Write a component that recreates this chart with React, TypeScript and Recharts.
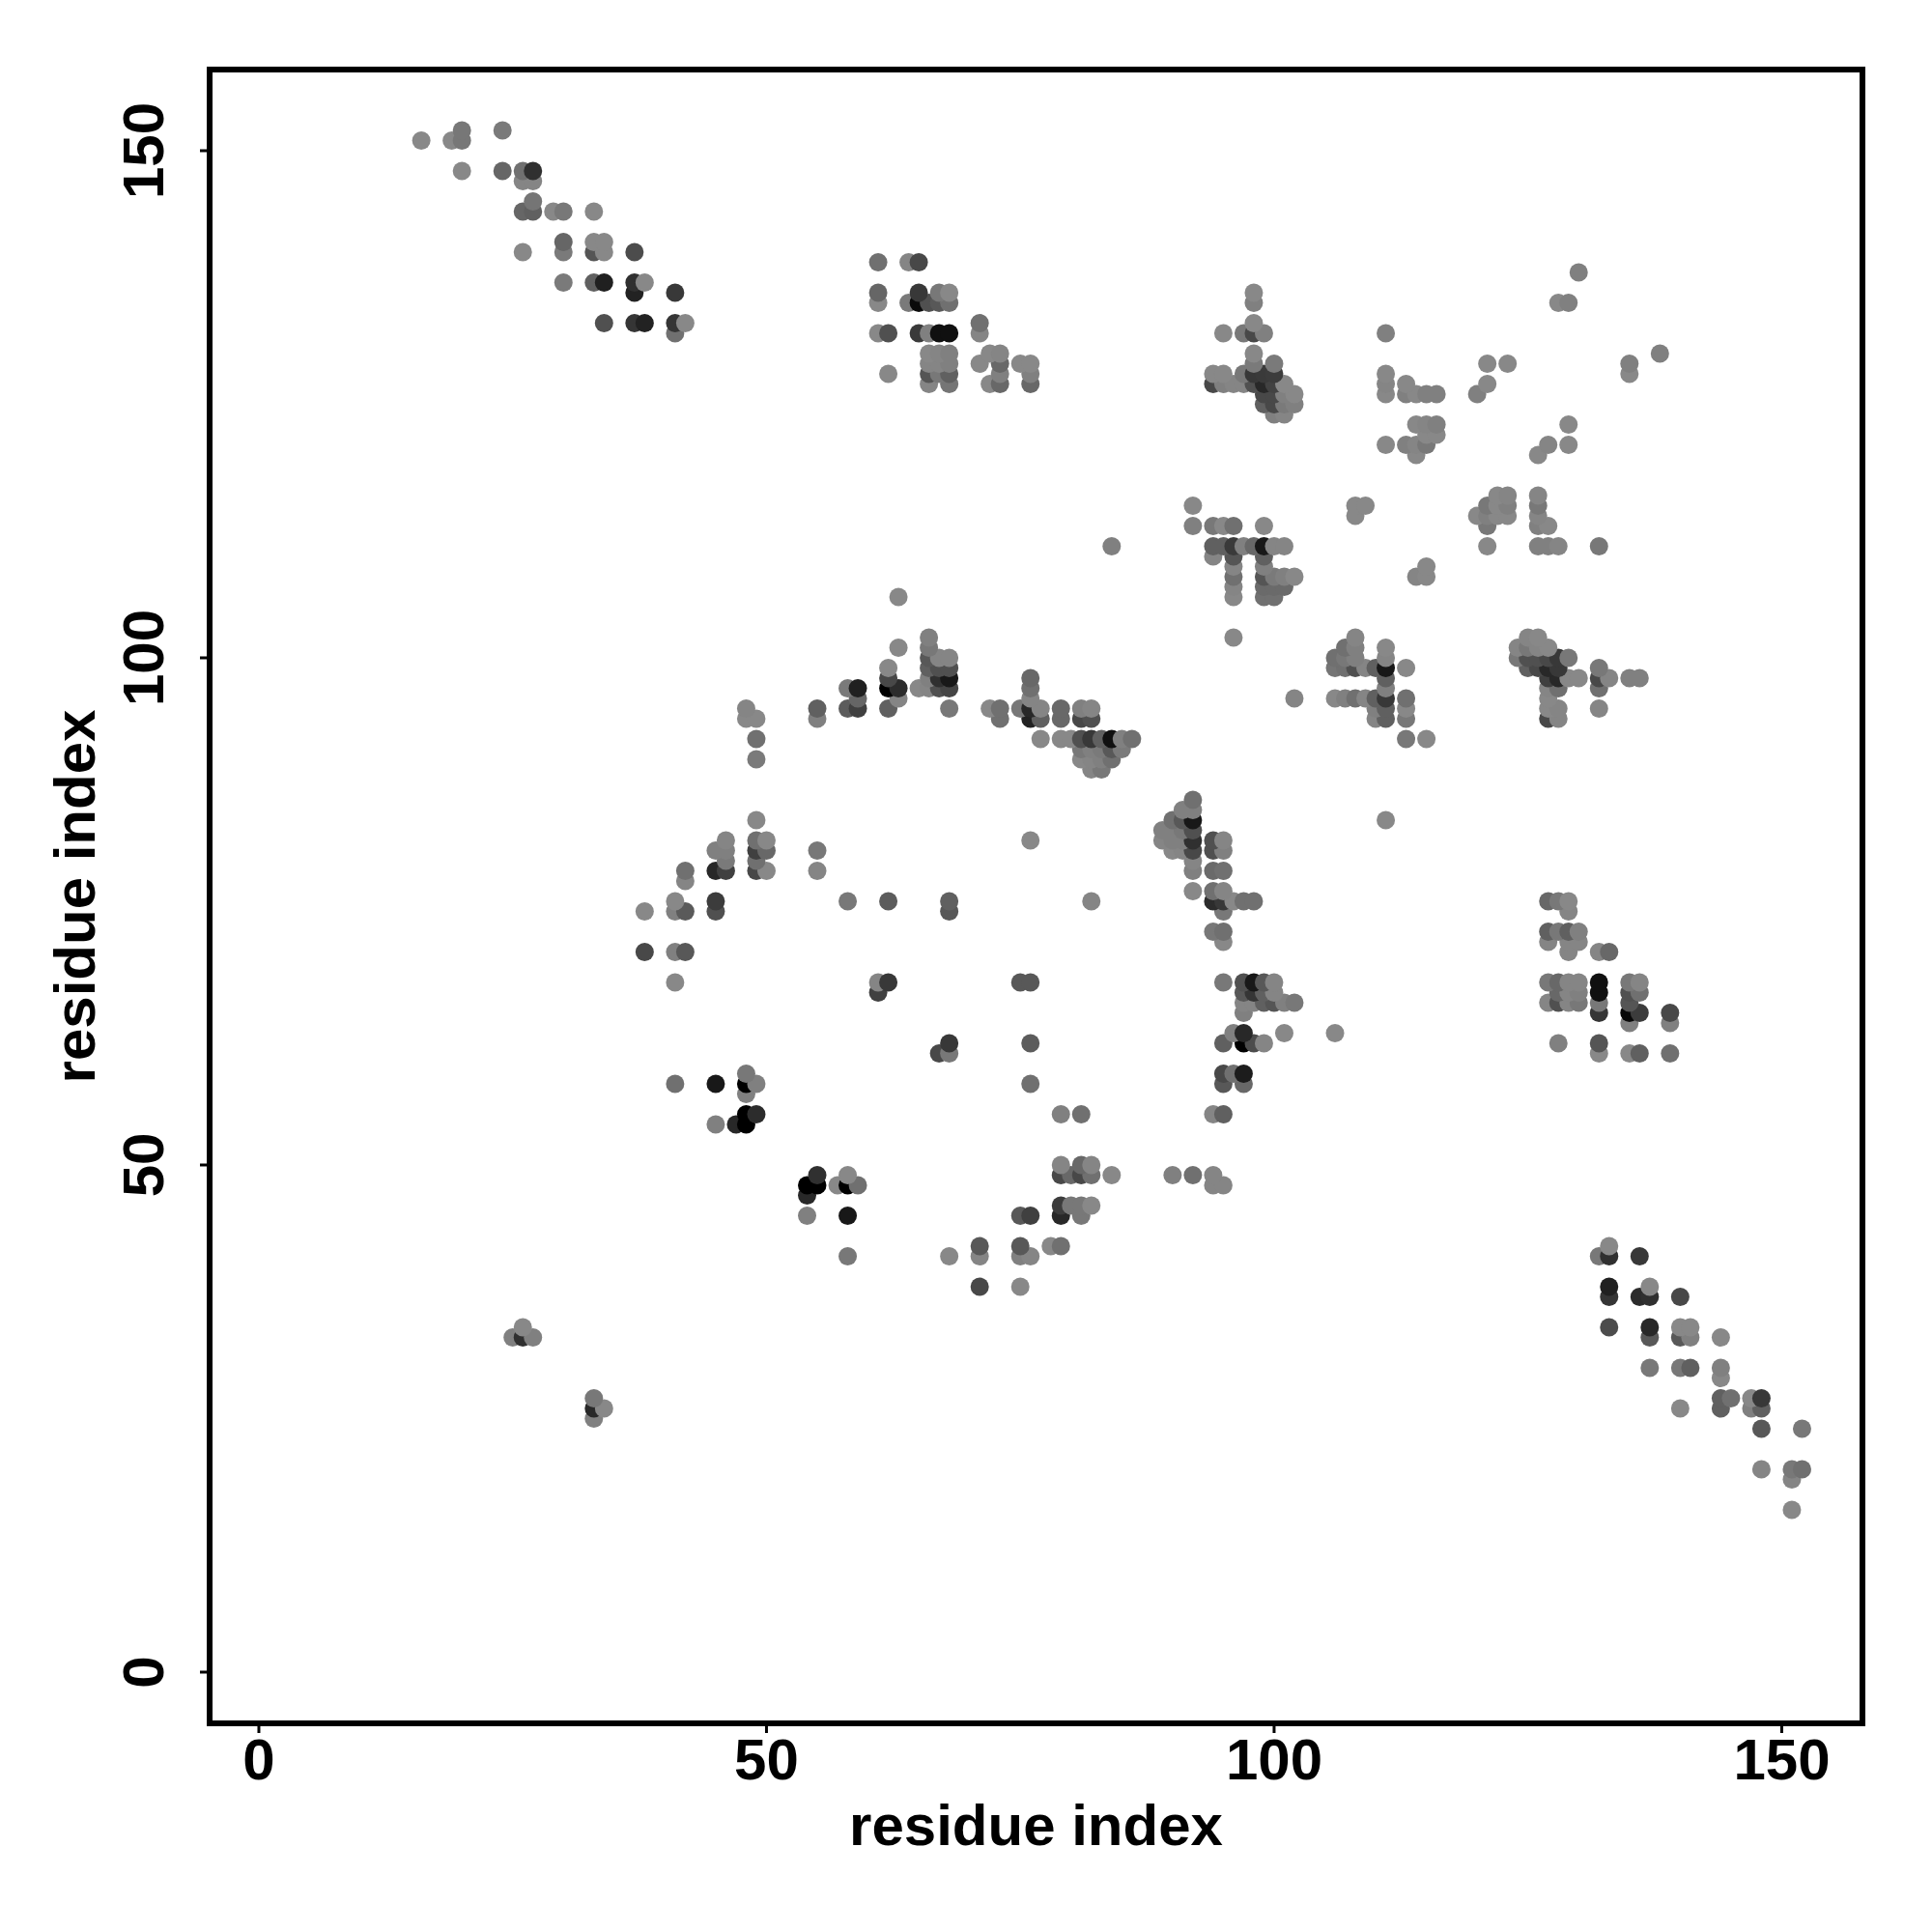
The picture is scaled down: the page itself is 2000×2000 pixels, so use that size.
import { ScatterChart, Scatter, XAxis, YAxis, ReferenceArea } from 'recharts';

// each contact is [residue x, residue y, grey level]
const termini1: number[][] = [
  [16,151,0x88],[19,151,0x88],[20,152,0x77],[20,151,0x77],[24,152,0x7a],[20,148,0x88],[24,148,0x66],[26,148,0x70],[27,148,0x30],
  [26,147,0x85],[27,147,0x85],[27,145,0x75],[26,144,0x66],[27,144,0x60],[29,144,0x88],[30,144,0x78],[33,144,0x88],
  [30,141,0x66],[30,140,0x7a],[26,140,0x88],[33,141,0x88],[34,141,0x88],[33,140,0x55],[34,140,0x88],[37,140,0x4c],
  [30,137,0x7a],[33,137,0x60],[34,137,0x20],[37,137,0x30],[38,137,0x88],[37,136,0x22],[41,136,0x38],
  [34,133,0x50],[37,133,0x35],[38,133,0x22],[41,133,0x35],[42,133,0x88],[41,132,0x70],
];

const upperMiddle: number[][] = [
  [61,139,0x70],[64,139,0x85],[65,139,0x48],[61,136,0x66],[61,135,0x88],[64,135,0x7a],[65,136,0x38],[65,135,0x0a],[66,135,0x50],
  [67,135,0x58],[67,136,0x78],[68,136,0x88],[68,135,0x70],[61,132,0x88],[62,132,0x50],[65,132,0x3a],[66,132,0x80],[67,132,0x10],
  [68,132,0x10],[71,133,0x70],[71,132,0x85],[66,130,0x88],[67,130,0x85],[68,130,0x80],[66,129,0x85],[67,129,0x85],[68,129,0x80],
  [66,128,0x55],[67,128,0x78],[68,128,0x60],[66,127,0x85],[68,127,0x75],[62,128,0x88],[71,129,0x88],[72,130,0x88],[73,130,0x85],
  [73,129,0x68],[73,128,0x80],[72,127,0x88],[73,127,0x68],[75,129,0x88],[76,129,0x88],[76,128,0x80],[76,127,0x68],
];

const upperCentre: number[][] = [
  [98,136,0x88],[98,135,0x80],[95,132,0x88],[97,132,0x78],[98,133,0x88],[98,132,0x48],[99,132,0x80],[98,130,0x88],[98,129,0x7a],
  [100,129,0x7a],[97,128,0x78],[98,128,0x38],[99,128,0x3a],[100,128,0x3c],[98,127,0x50],[99,127,0x28],[100,127,0x42],[94,128,0x88],
  [95,128,0x88],[94,127,0x48],[95,127,0x80],[96,127,0x85],[97,127,0x85],[99,126,0x48],[100,126,0x48],[99,125,0x60],[100,125,0x48],
  [101,127,0x88],[101,126,0x80],[102,126,0x88],[101,125,0x7a],[102,125,0x80],[100,124,0x80],[101,124,0x85],
];

const midCentre: number[][] = [
  [92,115,0x88],[92,113,0x80],[94,113,0x78],[95,113,0x88],[96,113,0x70],[99,113,0x88],[84,111,0x80],[94,111,0x60],[95,111,0x60],
  [96,111,0x3a],[97,111,0x80],[98,111,0x68],[99,111,0x18],[100,111,0x85],[101,111,0x85],[94,110,0x85],[96,110,0x55],[99,110,0x60],
  [96,109,0x85],[99,109,0x80],[96,108,0x70],[99,108,0x55],[100,108,0x7a],[101,108,0x80],[102,108,0x88],[96,107,0x85],[99,107,0x6a],
  [100,107,0x6a],[101,107,0x6a],[96,106,0x88],[99,106,0x70],[100,106,0x70],[96,102,0x88],[102,96,0x85],
];

const helixBand: number[][] = [
  [63,106,0x88],[63,101,0x88],[66,102,0x80],[66,101,0x78],[66,100,0x58],[66,99,0x60],[66,98,0x80],[66,97,0x85],[67,100,0x85],
  [68,100,0x85],[67,99,0x50],[68,99,0x50],[67,98,0x30],[68,98,0x18],[67,97,0x50],[68,97,0x45],[65,97,0x88],[62,99,0x88],[62,98,0x48],
  [62,97,0x00],[63,97,0x2c],[63,96,0x85],[62,95,0x60],[58,97,0x7a],[59,97,0x20],[59,96,0x66],[58,95,0x5c],[59,95,0x40],[68,95,0x78],
  [48,95,0x85],[48,94,0x88],[49,94,0x88],[49,92,0x70],[49,90,0x7a],[55,95,0x60],[55,94,0x80],[72,95,0x88],[73,95,0x70],[73,94,0x70],
  [75,95,0x78],[76,98,0x68],[76,97,0x70],[76,96,0x85],[76,95,0x28],[76,94,0x22],[77,95,0x85],[77,94,0x60],[77,92,0x88],[79,95,0x68],
  [79,94,0x68],[79,92,0x88],[80,92,0x88],[81,95,0x80],[82,95,0x85],[81,94,0x48],[82,94,0x50],[81,92,0x50],[82,92,0x38],[83,92,0x60],
  [84,92,0x10],[85,92,0x80],[86,92,0x70],[84,91,0x58],[85,91,0x7a],[81,91,0x78],[82,91,0x80],[83,91,0x7a],[81,90,0x88],[82,90,0x85],
  [83,90,0x80],[84,90,0x70],[82,89,0x85],[83,89,0x78],
];

const centreCluster: number[][] = [
  [92,86,0x70],[91,85,0x80],[92,85,0x80],[90,84,0x70],[91,84,0x58],[92,84,0x18],[89,83,0x80],[90,83,0x80],[91,83,0x78],[92,83,0x50],
  [89,82,0x85],[90,82,0x80],[91,82,0x80],[92,82,0x30],[90,81,0x88],[91,81,0x85],[92,81,0x48],[92,80,0x85],[92,79,0x80],[92,77,0x88],
  [82,76,0x85],[76,82,0x88],[94,82,0x50],[95,82,0x85],[94,81,0x50],[95,81,0x80],[94,79,0x6a],[95,79,0x70],[94,77,0x70],[95,77,0x85],
  [94,76,0x2c],[95,76,0x38],[96,76,0x88],[97,76,0x70],[98,76,0x70],[95,75,0x78],[94,73,0x78],[95,73,0x70],[95,72,0x88],
  [95,68,0x78],[97,68,0x50],[98,68,0x18],[99,68,0x58],[100,68,0x85],[97,67,0x58],[98,67,0x35],[99,67,0x60],[100,67,0x85],[97,66,0x85],
  [98,66,0x85],[99,66,0x60],[100,66,0x55],[101,66,0x80],[102,66,0x78],[97,65,0x80],[96,63,0x80],[97,63,0x28],[101,63,0x88],[106,63,0x88],
  [95,62,0x60],[97,62,0x00],[98,62,0x4c],[99,62,0x85],[95,59,0x48],[96,59,0x70],[97,59,0x1c],[95,58,0x58],[97,58,0x68],
  [94,55,0x85],[95,55,0x60],[84,49,0x88],[90,49,0x80],[92,49,0x70],[94,49,0x85],[94,48,0x85],[95,48,0x85],
];

const lowerLeft: number[][] = [
  [49,84,0x88],[46,82,0x85],[45,81,0x80],[46,81,0x80],[46,80,0x7a],[45,79,0x28],[46,79,0x40],[49,82,0x70],[50,82,0x88],[49,81,0x40],
  [50,81,0x68],[49,80,0x70],[49,79,0x48],[50,79,0x88],[55,81,0x78],[55,79,0x85],[42,79,0x70],[42,78,0x85],[41,76,0x88],[38,75,0x88],
  [41,75,0x80],[42,75,0x5a],[45,76,0x3c],[45,75,0x50],[58,76,0x78],[62,76,0x5c],[68,76,0x60],[68,75,0x58],[38,71,0x48],[41,71,0x80],
  [42,71,0x58],[41,68,0x88],[61,68,0x85],[62,68,0x38],[61,67,0x40],[75,68,0x58],[76,68,0x58],[68,62,0x38],[76,62,0x5c],[67,61,0x48],
  [68,61,0x78],[41,58,0x70],[45,58,0x18],[48,59,0x78],[48,58,0x00],[49,58,0x80],[48,57,0x80],[76,58,0x70],[48,55,0x00],[49,55,0x2c],
  [45,54,0x80],[47,54,0x28],[48,54,0x00],[79,55,0x80],[81,55,0x70],
];

const lowerMiddle: number[][] = [
  [55,49,0x30],[54,48,0x00],[55,48,0x00],[54,47,0x28],[58,49,0x88],[57,48,0x88],[58,48,0x00],[59,48,0x70],[54,45,0x80],[58,45,0x18],
  [58,41,0x78],[79,50,0x85],[79,49,0x48],[80,49,0x68],[81,50,0x68],[82,50,0x85],[81,49,0x48],[82,49,0x70],[79,46,0x3c],[80,46,0x78],
  [81,46,0x78],[82,46,0x88],[79,45,0x28],[81,45,0x78],[75,45,0x58],[76,45,0x40],[71,42,0x58],[71,41,0x85],[68,41,0x88],[75,42,0x58],
  [76,41,0x85],[75,41,0x80],[78,42,0x88],[79,42,0x70],[71,38,0x48],[75,38,0x88],[26,34,0x88],[25,33,0x80],[26,33,0x30],[27,33,0x80],
  [33,27,0x78],[33,26,0x28],[34,26,0x88],[33,25,0x80],
];

const upperRight: number[][] = [
  [111,132,0x80],[111,128,0x88],[111,127,0x85],[111,126,0x88],[113,127,0x88],[113,126,0x80],[114,126,0x88],[115,126,0x80],[116,126,0x80],
  [114,123,0x88],[115,123,0x85],[116,123,0x80],[115,122,0x88],[116,122,0x88],[111,121,0x88],[113,121,0x80],[114,121,0x85],[115,121,0x78],
  [114,120,0x88],[130,138,0x80],[128,135,0x88],[129,135,0x80],[121,129,0x88],[123,129,0x88],[121,127,0x88],[120,126,0x80],[129,123,0x88],
  [129,121,0x88],[127,121,0x85],[126,120,0x88],[135,129,0x80],[135,128,0x88],[138,130,0x80],[108,115,0x88],[109,115,0x88],[108,114,0x88],
  [122,116,0x88],[123,116,0x85],[126,116,0x85],[121,115,0x78],[122,115,0x88],[123,115,0x80],[126,115,0x78],[120,114,0x88],[121,114,0x80],
  [122,114,0x88],[123,114,0x88],[126,114,0x85],[121,113,0x78],[126,113,0x80],[127,113,0x88],[121,111,0x88],[126,111,0x80],[127,111,0x80],
  [128,111,0x85],[132,111,0x78],[115,109,0x88],[114,108,0x85],[115,108,0x88],
];

const rightBand: number[][] = [
  [108,102,0x85],[107,101,0x70],[108,101,0x80],[106,100,0x70],[107,100,0x78],[108,100,0x80],[106,99,0x75],[107,99,0x70],[108,99,0x50],
  [109,99,0x85],[110,99,0x60],[111,101,0x88],[111,100,0x85],[111,99,0x18],[111,98,0x60],[111,97,0x80],[113,99,0x88],[106,96,0x88],
  [107,96,0x80],[108,96,0x70],[109,96,0x85],[110,96,0x60],[111,96,0x38],[110,95,0x80],[111,95,0x60],[110,94,0x85],[111,94,0x60],
  [113,96,0x70],[113,95,0x88],[113,94,0x78],[113,92,0x78],[115,92,0x88],[111,84,0x88],
  [125,102,0x85],[126,102,0x88],[124,101,0x85],[125,101,0x78],[126,101,0x85],[127,101,0x88],[124,100,0x78],[125,100,0x50],[126,100,0x50],
  [127,100,0x48],[128,100,0x38],[129,100,0x78],[125,99,0x60],[126,99,0x48],[127,99,0x28],[128,99,0x38],[127,98,0x40],[128,98,0x28],
  [129,98,0x88],[130,98,0x88],[127,97,0x85],[128,97,0x70],[127,96,0x88],[127,95,0x88],[128,95,0x85],[127,94,0x48],[128,94,0x85],
  [132,99,0x78],[132,98,0x48],[133,98,0x85],[132,97,0x70],[132,95,0x85],[135,98,0x80],[136,98,0x80],
];

const lowerRight: number[][] = [
  [127,76,0x68],[128,76,0x78],[129,76,0x88],[129,75,0x85],[127,73,0x60],[128,73,0x78],[129,73,0x60],[130,73,0x80],[127,72,0x85],
  [129,72,0x85],[130,72,0x85],[129,71,0x85],[132,71,0x85],[133,71,0x68],[127,68,0x78],[128,68,0x68],[129,68,0x85],[130,68,0x85],
  [132,68,0x10],[135,68,0x78],[136,68,0x85],[128,67,0x68],[129,67,0x85],[130,67,0x80],[132,67,0x10],[135,67,0x50],[136,67,0x70],
  [127,66,0x85],[128,66,0x50],[129,66,0x85],[130,66,0x78],[132,66,0x78],[135,66,0x55],[132,65,0x35],[135,65,0x08],[136,65,0x3c],
  [139,65,0x48],[135,64,0x80],[139,64,0x80],[128,62,0x80],[132,62,0x55],[132,61,0x88],[135,61,0x88],[136,61,0x60],[139,61,0x70],
];

const termini2: number[][] = [
  [136,41,0x38],[132,41,0x78],[133,41,0x30],[133,42,0x88],[133,38,0x20],[133,37,0x35],[136,37,0x2c],[137,38,0x88],[137,37,0x30],[140,37,0x48],
  [133,34,0x4c],[137,34,0x28],[137,33,0x58],[140,34,0x88],[141,34,0x88],[140,33,0x58],[141,33,0x80],[144,33,0x88],[137,30,0x78],[140,30,0x78],
  [141,30,0x60],[144,30,0x80],[144,29,0x88],[140,26,0x88],[144,27,0x60],[145,27,0x70],[144,26,0x60],[147,27,0x88],[147,26,0x80],[148,27,0x38],
  [148,26,0x60],[148,24,0x58],[152,24,0x78],[148,20,0x85],[151,20,0x78],[152,20,0x70],[151,19,0x85],[151,16,0x88],
];

const axisTicks = [0, 50, 100, 150];

// points are painted row by row from the bottom, like the original
const contacts = [
  ...termini1, ...upperMiddle, ...upperCentre, ...midCentre, ...helixBand, ...centreCluster,
  ...lowerLeft, ...lowerMiddle, ...upperRight, ...rightBand, ...lowerRight, ...termini2,
]
  .map(([x, y, level]) => ({ x, y, level }))
  .sort((a, b) => a.y - b.y || a.x - b.x);

const X_DOMAIN = [-4.85, 157.95];
const Y_DOMAIN = [-5.05, 158];
const FONT = '"Liberation Sans", Arial, sans-serif';

const ContactDot = (props: any) => {
  const l = props.payload.level;
  return <circle cx={props.cx} cy={props.cy} r={9.5} fill={`rgb(${l},${l},${l})`} />;
};

const XTick = ({ x, y, payload }: any) => (
  <text x={x} y={y + 46} textAnchor="middle" fontFamily={FONT} fontWeight="bold" fontSize={60} fill="#000">
    {payload.value}
  </text>
);

const YTick = ({ x, y, payload }: any) => (
  <text x={x - 36} y={y} textAnchor="middle" fontFamily={FONT} fontWeight="bold" fontSize={60} fill="#000"
    transform={`rotate(-90, ${x - 36}, ${y})`}>
    {payload.value}
  </text>
);

export default function App() {
  return (
    <div style={{ position: 'absolute', left: 0, top: 0, width: 2000, height: 2000, background: '#fff' }}>
      <ScatterChart width={2000} height={2000} margin={{ top: 72, right: 72, bottom: 0, left: 0 }}>
        <XAxis
          type="number"
          dataKey="x"
          domain={X_DOMAIN}
          ticks={axisTicks}
          height={216}
          interval={0}
          allowDataOverflow
          axisLine={false}
          tickSize={10}
          tickLine={{ stroke: '#000', strokeWidth: 3 }}
          tick={<XTick />}
          label={{
            value: 'residue index',
            position: 'insideBottom',
            offset: 90,
            style: { fontFamily: FONT, fontWeight: 'bold', fontSize: 60, fill: '#000' },
          }}
        />
        <YAxis
          type="number"
          dataKey="y"
          domain={Y_DOMAIN}
          ticks={axisTicks}
          width={217}
          interval={0}
          allowDataOverflow
          axisLine={false}
          tickSize={10}
          tickLine={{ stroke: '#000', strokeWidth: 3 }}
          tick={<YTick />}
          label={{
            value: 'residue index',
            angle: -90,
            position: 'insideLeft',
            offset: 77,
            style: { fontFamily: FONT, fontWeight: 'bold', fontSize: 60, fill: '#000', textAnchor: 'middle' },
          }}
        />
        <Scatter data={contacts} shape={ContactDot} isAnimationActive={false} />
        <ReferenceArea
          x1={X_DOMAIN[0]}
          x2={X_DOMAIN[1]}
          y1={Y_DOMAIN[0]}
          y2={Y_DOMAIN[1]}
          fill="none"
          stroke="#000"
          strokeWidth={6}
          ifOverflow="visible"
        />
      </ScatterChart>
    </div>
  );
}
